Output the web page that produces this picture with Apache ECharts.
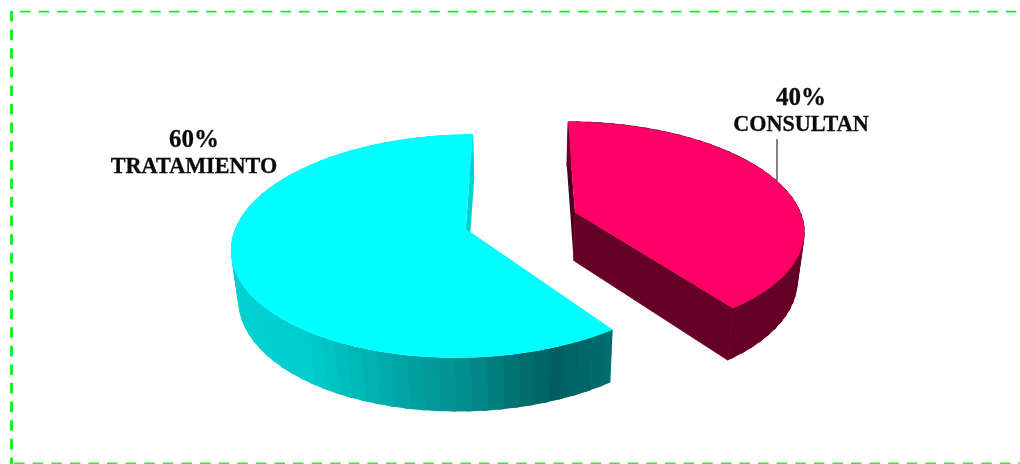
<!DOCTYPE html>
<html>
<head>
<meta charset="utf-8">
<style>
  html, body { margin: 0; padding: 0; background: #fff; }
  #chart { width: 1020px; height: 464px; }
</style>
<script src="https://cdn.jsdelivr.net/npm/echarts@6/dist/echarts.min.js"></script>
</head>
<body>
<div id="chart"></div>
<script>
// Share of each group, clockwise from twelve o'clock.
const categories = ['CONSULTAN', 'TRATAMIENTO'];
const percentages = [40, 60];

// Projection of the tilted disc: radii, perspective strength and explosion distance.
const view = { cx: 521, cy: 220.7, rx: 228, ry: 106.6, persp: 0.15, explode: 0.252 };
const wall = { shrink: 0.975, depth: 48, depthGrow: 0.04, depthRef: 212 };

const faceColors = ['#ff0066', '#00ffff'];
const wallColors = ['#660026', null];
const startFaceColors = ['#4d001d', '#00d2d2'];

// Shade of the teal rim, stepping from the left of the disc to the cut edge.
const rimStops = [
  [144, [0, 112, 112]], [160, [0, 95, 95]], [168, [0, 112, 112]], [175, [0, 132, 132]],
  [187, [0, 155, 155]], [200, [0, 178, 178]], [216, [0, 205, 205]], [235, [0, 208, 208]], [360, [0, 210, 210]]
];

const labelLayout = [
  { x: 801, y: 99, y2: 125, leader: [777, 139, 777, 181] },
  { x: 194, y: 141, y2: 167 }
];

function rimColor(deg) {
  for (let i = 1; i < rimStops.length; i++) {
    const a = rimStops[i - 1], b = rimStops[i];
    if (deg <= b[0]) {
      const t = (deg - a[0]) / (b[0] - a[0]);
      const mix = a[1].map((v, k) => Math.round(v + (b[1][k] - v) * t));
      return 'rgb(' + mix.join(',') + ')';
    }
  }
  return 'rgb(0,210,210)';
}

function project(X, Y) {
  const p = 1 / (1 + view.persp * Y);
  return [view.cx + X * view.rx * p, view.cy - Y * view.ry * p];
}

function lower(pt) {
  return [
    view.cx + (pt[0] - view.cx) * wall.shrink,
    pt[1] + wall.depth + (pt[1] - wall.depthRef) * wall.depthGrow
  ];
}

function renderSlice(params, api) {
  const i = params.dataIndex;
  const total = percentages.reduce((s, v) => s + v, 0);
  const before = percentages.slice(0, i).reduce((s, v) => s + v, 0);
  const start = before / total * 360;
  const end = (before + api.value(0)) / total * 360;
  const mid = (start + end) / 2 * Math.PI / 180;
  const ox = Math.sin(mid) * view.explode;
  const oy = Math.cos(mid) * view.explode;

  const rimPoint = deg => {
    const r = deg * Math.PI / 180;
    return project(ox + Math.sin(r), oy + Math.cos(r));
  };
  const apex = project(ox, oy);
  const children = [];
  const poly = (points, fill, seal) => children.push({
    type: 'polygon',
    shape: { points },
    style: seal ? { fill, stroke: fill, lineWidth: 0.8 } : { fill }
  });

  // Radial cut faces sit behind everything else.
  const a = rimPoint(start), b = rimPoint(end);
  poly([apex, a, lower(a), lower(apex)], startFaceColors[i]);
  poly([apex, b, lower(b), lower(apex)], wallColors[i] || startFaceColors[i], !!wallColors[i]);

  // Outer rim as narrow facets, each lapping the one before so no seam shows.
  const step = 3.4;
  for (let d = start; d < end - 0.001; d += step) {
    const from = Math.max(d - 1.2, start);
    const to = Math.min(d + step, end);
    const p = rimPoint(from), q = rimPoint(to);
    poly([p, q, lower(q), lower(p)], wallColors[i] || rimColor(d + step / 2), !!wallColors[i]);
  }

  // Top face.
  const top = [apex];
  for (let d = start; d <= end + 0.001; d += 1) top.push(rimPoint(Math.min(d, end)));
  poly(top, faceColors[i]);

  // Label and optional leader.
  const lay = labelLayout[i];
  const family = '"Liberation Serif", serif';
  children.push({
    type: 'text',
    style: {
      x: lay.x, y: lay.y, text: api.value(0) + '%', font: 'bold 25px ' + family,
      fill: '#0b0b0b', stroke: '#0b0b0b', lineWidth: 0.3, align: 'center', verticalAlign: 'middle'
    }
  });
  children.push({
    type: 'text',
    style: {
      x: lay.x, y: lay.y2, text: categories[i], font: 'bold 22.2px ' + family,
      fill: '#0b0b0b', stroke: '#0b0b0b', lineWidth: 0.3, align: 'center', verticalAlign: 'middle'
    }
  });
  if (lay.leader) {
    children.push({
      type: 'line',
      shape: { x1: lay.leader[0], y1: lay.leader[1], x2: lay.leader[2], y2: lay.leader[3] },
      style: { stroke: '#444444', lineWidth: 1.3 }
    });
  }
  return { type: 'group', children };
}

const dash = (x1, y1, x2, y2, lineWidth, stroke) => ({
  type: 'line',
  silent: true,
  shape: { x1, y1, x2, y2 },
  style: { stroke, lineWidth, lineDash: [10.6, 8] }
});

const chart = echarts.init(document.getElementById('chart'), null, { renderer: 'canvas' });
chart.setOption({
  animation: false,
  backgroundColor: '#ffffff',
  graphic: [
    dash(20, 11.7, 1020, 11.7, 1.7, '#10f028'),
    dash(11.5, 11, 11.5, 464, 2.8, '#08f020'),
    dash(14, 463.2, 1020, 463.2, 1.5, '#44e044')
  ],
  series: [{
    type: 'custom',
    coordinateSystem: 'none',
    renderItem: renderSlice,
    data: percentages.map(v => [v])
  }]
});
</script>
</body>
</html>
